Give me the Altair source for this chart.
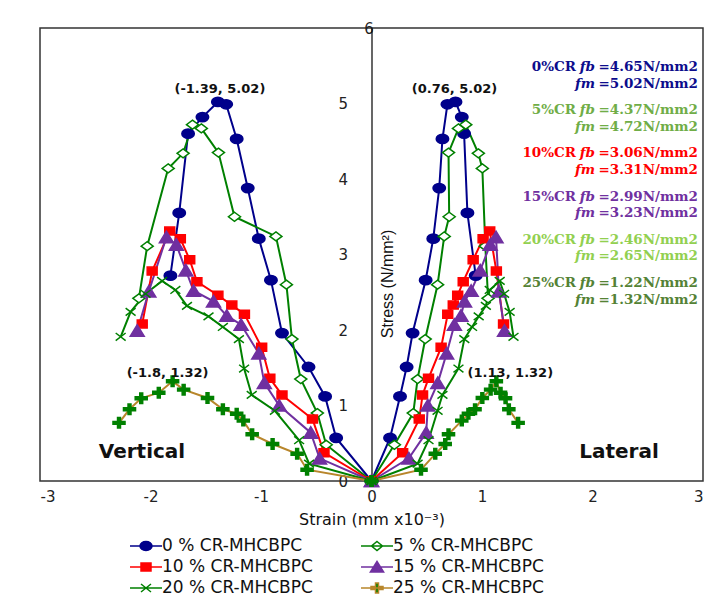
import altair as alt
import pandas as pd

series = ["0 % CR-MHCBPC", "5 % CR-MHCBPC", "10 % CR-MHCBPC",
          "15 % CR-MHCBPC", "20 % CR-MHCBPC", "25 % CR-MHCBPC"]

# stress values (shared by the vertical and lateral branch of each series)
stress_0 = [0, 0.57, 1.12, 1.51, 1.96, 2.66, 3.21, 3.88, 4.53, 4.99, 5.02, 4.82, 4.60, 3.55, 2.72]
stress_5 = [0, 0.48, 0.90, 1.35, 1.88, 2.60, 3.24, 3.50, 4.35, 4.67, 4.72, 4.34, 4.14, 3.11, 2.42]
stress_10 = [0, 0.375, 0.82, 1.14, 1.36, 1.77, 2.21, 2.33, 2.46, 2.64, 2.93, 3.21, 3.31, 2.78, 2.08]
stress_15 = [0, 0.30, 0.64, 1.00, 1.30, 1.69, 2.07, 2.19, 2.38, 2.52, 2.79, 3.13, 3.23, 2.51, 1.99]
stress_20 = [0, 0.23, 0.54, 0.93, 1.14, 1.49, 1.88, 2.04, 2.18, 2.32, 2.53, 2.65, 2.48, 2.24, 1.91]
stress_25 = [0, 0.15, 0.36, 0.49, 0.62, 0.80, 0.89, 0.95, 1.10, 1.21, 1.32, 1.17, 1.095, 0.95, 0.77]

# vertical strain (negative side)
vert_0 = [0, -0.32, -0.42, -0.57, -0.81, -0.91, -1.02, -1.12, -1.22, -1.315, -1.39, -1.53, -1.66, -1.74, -1.82]
vert_5 = [0, -0.41, -0.49, -0.64, -0.72, -0.77, -0.865, -1.24, -1.385, -1.54, -1.62, -1.705, -1.84, -2.03, -2.105]
vert_10 = [0, -0.43, -0.534, -0.81, -0.92, -0.994, -1.15, -1.264, -1.39, -1.58, -1.645, -1.73, -1.826, -1.985, -2.075]
vert_15 = [0, -0.47, -0.55, -0.835, -0.97, -1.02, -1.18, -1.31, -1.43, -1.61, -1.68, -1.766, -1.856, -2.015, -2.12]
vert_20 = [0, -0.565, -0.655, -0.874, -1.084, -1.153, -1.20, -1.345, -1.475, -1.67, -1.775, -1.895, -2.045, -2.18, -2.27]
vert_25 = [0, -0.583, -0.673, -0.895, -1.08, -1.16, -1.22, -1.345, -1.484, -1.70, -1.80, -1.925, -2.084, -2.19, -2.285]

# lateral strain (positive side)
lat_0 = [0, 0.168, 0.258, 0.318, 0.372, 0.49, 0.559, 0.613, 0.642, 0.687, 0.76, 0.817, 0.838, 0.868, 0.943]
lat_5 = [0, 0.207, 0.378, 0.417, 0.486, 0.598, 0.658, 0.703, 0.697, 0.787, 0.853, 0.967, 1.003, 1.03, 1.055]
lat_10 = [0, 0.282, 0.432, 0.462, 0.516, 0.63, 0.69, 0.74, 0.78, 0.83, 0.92, 1.01, 1.07, 1.13, 1.195]
lat_15 = [0, 0.338, 0.495, 0.51, 0.60, 0.68, 0.75, 0.81, 0.842, 0.902, 0.984, 1.074, 1.127, 1.153, 1.204]
lat_20 = [0, 0.417, 0.516, 0.598, 0.642, 0.787, 0.84, 0.91, 0.97, 1.035, 1.07, 1.16, 1.20, 1.25, 1.285]
lat_25 = [0, 0.448, 0.577, 0.667, 0.697, 0.817, 0.877, 0.937, 1.003, 1.078, 1.13, 1.168, 1.213, 1.243, 1.327]

stress = [stress_0, stress_5, stress_10, stress_15, stress_20, stress_25]
vertical = [vert_0, vert_5, vert_10, vert_15, vert_20, vert_25]
lateral = [lat_0, lat_5, lat_10, lat_15, lat_20, lat_25]

# right-hand annotation values
ann_pct = ["0", "5", "10", "15", "20", "25"]
ann_fb = ["4.65", "4.37", "3.06", "2.99", "2.46", "1.22"]
ann_fm = ["5.02", "4.72", "3.31", "3.23", "2.65", "1.32"]
ann_colors = ["#0c0c8c", "#70AD47", "#FF0000", "#7030A0", "#92D050", "#548235"]

# peak labels
peak_labels = ["(-1.39, 5.02)", "(0.76, 5.02)", "(-1.8, 1.32)", "(1.13, 1.32)"]
peak_x = [-1.39, 0.76, -1.8, 1.13]
peak_y = [5.02, 5.02, 1.32, 1.32]
peak_dx = [2, -1, -5, 14]
peak_dy = [-13, -13, -8, -8]

line_colors = ["#00008B", "#008000", "#FF0000", "#7030A0", "#008000", "#B8862B"]
line_widths = [2, 2, 2, 2, 1.6, 1.6]
marker_stroke = ["#00008B", "#008000", "#FF0000", "#7030A0", "#008000", "#008000"]
marker_fill = ["#00008B", "#FFFFFF", "#FF0000", "#7030A0", "#008000", "#008000"]

plot_shapes = [
    "M-0.89,0A0.89,0.66 0 1,0 0.89,0A0.89,0.66 0 1,0 -0.89,0Z",
    "M0,-0.64L0.86,0L0,0.64L-0.86,0Z",
    "M-0.71,-0.57H0.71V0.57H-0.71Z",
    "M0,-0.85L1,0.8H-1Z",
    "M-0.71,-0.54L0.71,0.54M-0.71,0.54L0.71,-0.54",
    "M-0.86,-0.21H-0.21V-0.75H0.21V-0.21H0.86V0.21H0.21V0.75H-0.21V0.21H-0.86Z",
]
LN = "M-1.6,0H1.6"
legend_shapes = [
    LN + "M-0.6,0A0.6,0.45 0 1,0 0.6,0A0.6,0.45 0 1,0 -0.6,0Z",
    LN + "M0,-0.45L0.55,0L0,0.45L-0.55,0Z",
    LN + "M-0.5,-0.4H0.5V0.4H-0.5Z",
    LN + "M0,-0.55L0.66,0.5H-0.66Z",
    LN + "M-0.5,-0.4L0.5,0.4M-0.5,0.4L0.5,-0.4",
    LN + "M-0.6,-0.15H-0.15V-0.5H0.15V-0.15H0.6V0.15H0.15V0.5H-0.15V0.15H-0.6Z",
]
legend_stroke = line_colors
legend_fill = marker_fill

rows = []
for i, name in enumerate(series):
    for side, xs in (("V", vertical[i]), ("L", lateral[i])):
        for k, (xv, yv) in enumerate(zip(xs, stress[i])):
            rows.append({"series": name, "branch": f"{name}-{side}", "order": k,
                         "strain": xv, "stress": yv})
df = pd.DataFrame(rows)

SANS = "DejaVu Sans"
SERIF = "DejaVu Serif"

x_enc = alt.X("strain:Q", scale=alt.Scale(domain=[-3, 3], nice=False, zero=False),
              axis=alt.Axis(title="Strain (mm x10⁻³)", values=[-3, -2, -1, 0, 1, 2, 3],
                            grid=False, ticks=False, domain=False, labelPadding=8,
                            labelExpr="'' + datum.value", labelFont=SANS, labelFontSize=15,
                            labelColor="#222", titleFont=SANS, titleFontSize=16,
                            titleFontWeight="normal", titleColor="#111", titlePadding=7))
y_enc = alt.Y("stress:Q", scale=alt.Scale(domain=[0, 6], nice=False),
              axis=alt.Axis(title=None, offset=-331.5, values=[0, 1, 2, 3, 4, 5, 6],
                            grid=False, ticks=False, domainColor="#000", domainWidth=1.2,
                            labelExpr="'' + datum.value",
                            labelFont=SANS, labelFontSize=15, labelColor="#222",
                            labelPadding=alt.ConditionalAxisNumber(
                                condition={"test": "datum.value == 6", "value": 3}, value=24),
                            labelAlign=alt.ConditionalAxisLabelAlign(
                                condition={"test": "datum.value == 6", "value": "center"}, value="right")))

base = alt.Chart(df).encode(x=x_enc, y=y_enc)

lines = base.mark_line().encode(
    stroke=alt.Stroke("series:N", scale=alt.Scale(domain=series, range=line_colors), legend=None),
    strokeWidth=alt.StrokeWidth("series:N", scale=alt.Scale(domain=series, range=line_widths), legend=None),
    detail="branch:N",
    order="order:Q",
)

points = base.mark_point(filled=True, opacity=1, size=196, strokeWidth=1.5).encode(
    shape=alt.Shape("series:N", scale=alt.Scale(domain=series, range=plot_shapes), legend=None),
    fill=alt.Fill("series:N", scale=alt.Scale(domain=series, range=marker_fill), legend=None),
    stroke=alt.Stroke("series:N", scale=alt.Scale(domain=series, range=marker_stroke), legend=None),
)

leg = alt.Legend(title=None, orient="none", legendX=95, legendY=507, columns=2,
                 direction="horizontal",
                 symbolSize=400, symbolStrokeWidth=1.5, symbolOpacity=1,
                 labelFont=SANS, labelFontSize=17, labelColor="#111", labelLimit=400,
                 labelOffset=5, columnPadding=45, rowPadding=2, padding=0)

legend_layer = alt.Chart(df).transform_filter("false").mark_point(
    filled=True, opacity=1, strokeWidth=1.5).encode(
    x=alt.X("strain:Q"), y=alt.Y("stress:Q"),
    shape=alt.Shape("series:N", scale=alt.Scale(domain=series, range=legend_shapes), legend=leg),
    fill=alt.Fill("series:N", scale=alt.Scale(domain=series, range=legend_fill), legend=leg),
    stroke=alt.Stroke("series:N", scale=alt.Scale(domain=series, range=legend_stroke), legend=leg),
)

layers = [lines, points, legend_layer]

# peak labels
for lab, px, py, ddx, ddy in zip(peak_labels, peak_x, peak_y, peak_dx, peak_dy):
    layers.append(
        alt.Chart(pd.DataFrame({"t": [lab], "px": [px], "py": [py]})).mark_text(
            font=SANS, fontSize=13, fontWeight="bold", color="#111",
            dx=ddx, dy=ddy, baseline="middle", align="center"
        ).encode(x="px:Q", y="py:Q", text="t:N")
    )

def text_layer(txt, x, y, color, align="right", italic=False, font=SERIF, size=13.5,
               weight="bold", angle=None):
    kw = dict(font=font, fontSize=size, fontWeight=weight, color=color,
              align=align, baseline="middle")
    if italic:
        kw["fontStyle"] = "italic"
    if angle is not None:
        kw["angle"] = angle
    return alt.Chart(pd.DataFrame({"t": [txt]})).mark_text(**kw).encode(
        x=alt.value(x), y=alt.value(y), text="t:N")

for i in range(6):
    y1 = 39 + 43.2 * i
    y2 = y1 + 16.5
    c = ann_colors[i]
    layers.append(text_layer(f"{ann_pct[i]}%CR", 536, y1, c))
    layers.append(text_layer("fb", 555, y1, c, italic=True))
    layers.append(text_layer(f"={ann_fb[i]}N/mm2", 658, y1, c))
    layers.append(text_layer("fm", 555, y2, c, italic=True))
    layers.append(text_layer(f"={ann_fm[i]}N/mm2", 658, y2, c))

layers.append(text_layer("Vertical", 102, 424, "#111", align="center", font=SANS, size=20))
layers.append(text_layer("Lateral", 579, 424, "#111", align="center", font=SANS, size=20))
layers.append(text_layer("Stress (N/mm²)", 348, 256, "#111", align="center",
                         font="Liberation Sans Narrow, Liberation Sans", size=16,
                         weight="normal", angle=270))

chart = alt.layer(*layers).resolve_scale(
    shape="independent", fill="independent", stroke="independent", strokeWidth="independent"
).properties(
    width=663, height=453,
    padding={"left": 32, "top": 20, "right": 5, "bottom": 118},
    autosize=alt.AutoSizeParams(type="none"),
).configure_view(stroke="#333", strokeWidth=1.5)

chart.save("out.html", embed_options={"renderer": "svg", "actions": False})
